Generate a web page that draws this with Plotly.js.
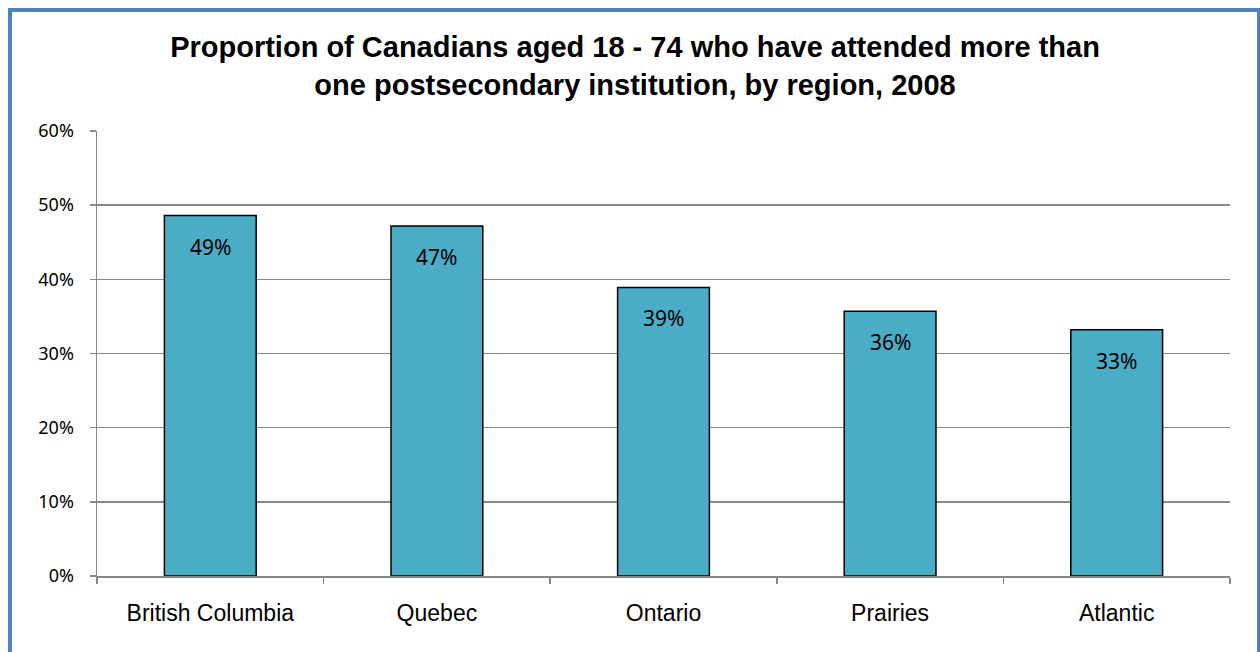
<!DOCTYPE html>
<html>
<head>
<meta charset="utf-8">
<script src="https://cdn.plot.ly/plotly-3.0.1.min.js"></script>
<style>
html,body{margin:0;padding:0;overflow:hidden;background:#fff;}
#chart{position:absolute;left:0;top:0;width:1260px;height:652px;}
#frame{position:absolute;left:8px;top:8px;width:1245px;height:660px;border:4px solid #4F81BD;box-sizing:content-box;pointer-events:none;}
</style>
</head>
<body>
<div id="chart"></div>
<div id="frame"></div>
<script>
const regions = ["British Columbia", "Quebec", "Ontario", "Prairies", "Atlantic"];
const shares = [48.6, 47.2, 38.9, 35.7, 33.2];
const yTickVals = [0, 10, 20, 30, 40, 50, 60];
const yTickText = ["0%", "10%", "20%", "30%", "40%", "50%", "60%"];

const trace = {
  type: "bar",
  x: regions,
  y: shares,
  width: 0.405,
  marker: {color: "#4BACC6", line: {color: "#000000", width: 1.5}},
  hoverinfo: "none"
};

const annotations = regions.map((r, i) => ({
  x: r, y: shares[i], xref: "x", yref: "y",
  text: Math.round(shares[i]) + "%",
  showarrow: false, yanchor: "top", yshift: -15,
  font: {family: "Noto Sans, Open Sans, sans-serif", size: 21, color: "#000"}
}));

const layout = {
  width: 1260, height: 652,
  margin: {l: 97, r: 30, t: 131, b: 76},
  paper_bgcolor: "#ffffff", plot_bgcolor: "#ffffff",
  showlegend: false,
  title: {
    text: "<b>Proportion of Canadians aged 18 - 74 who have attended more than<br>one postsecondary institution, by region, 2008</b>",
    font: {family: "Liberation Sans, Arial, sans-serif", size: 29, color: "#000"},
    x: 0.504, xanchor: "center", xref: "container",
    y: 0.912, yanchor: "top", yref: "container"
  },
  xaxis: {
    type: "category",
    showgrid: false,
    showline: true, linecolor: "#888888", linewidth: 1.5,
    ticks: "outside", ticklen: 6, tickcolor: "#888888", tickwidth: 1.5,
    tickson: "boundaries",
    ticklabelstandoff: 16,
    tickfont: {family: "Liberation Sans, Arial, sans-serif", size: 23, color: "#000"},
    fixedrange: true
  },
  yaxis: {
    range: [0, 60],
    tickvals: yTickVals, ticktext: yTickText,
    showgrid: true, gridcolor: "#888888", gridwidth: 1.5,
    showline: true, linecolor: "#888888", linewidth: 1.5,
    ticks: "outside", ticklen: 6, tickcolor: "#888888", tickwidth: 1.5,
    zeroline: false,
    ticklabelstandoff: 12,
    tickfont: {family: "Noto Sans, Open Sans, sans-serif", size: 18, color: "#000"},
    fixedrange: true
  },
  annotations: annotations,
  bargap: 0.595
};

Plotly.newPlot("chart", [trace], layout, {displayModeBar: false, staticPlot: true});
</script>
</body>
</html>
